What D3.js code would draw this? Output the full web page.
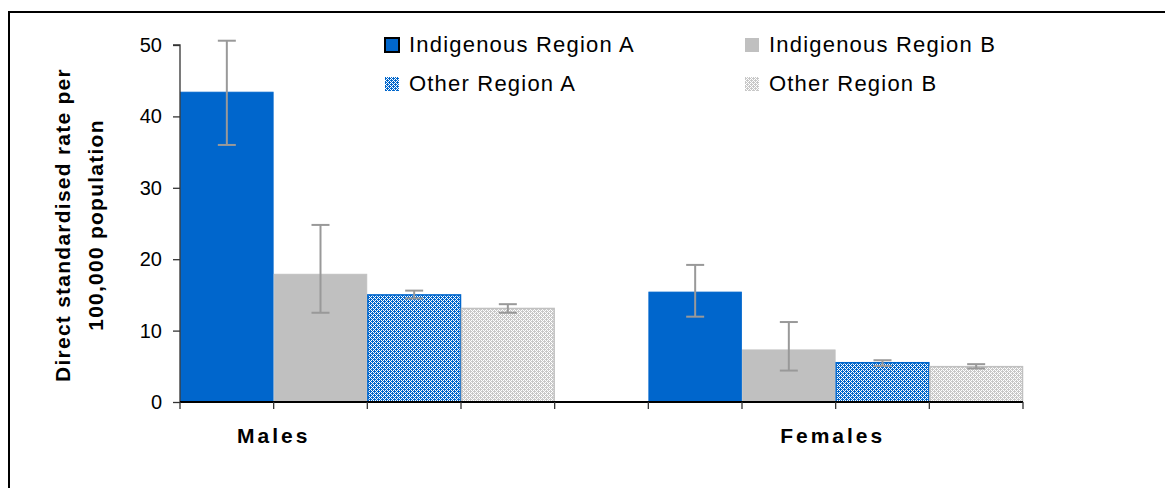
<!DOCTYPE html>
<html><head><meta charset="utf-8">
<script src="https://cdn.jsdelivr.net/npm/d3@7"></script>
<style>
html,body{margin:0;padding:0;background:#fff;}
svg{display:block;font-family:"Liberation Sans",Arial,sans-serif;}
</style></head>
<body><svg id="chart" width="1165" height="488"></svg>
<script>
const categories = ["Males", "Females"];
const seriesNames = ["Indigenous Region A", "Indigenous Region B", "Other Region A", "Other Region B"];
const valuesMales = [43.4, 17.9, 15.0, 13.1];
const valuesFemales = [15.4, 7.3, 5.5, 4.95];
const lowerMales = [36.0, 12.5, 14.5, 12.5];
const upperMales = [50.6, 24.8, 15.6, 13.7];
const lowerFemales = [11.95, 4.4, 5.05, 4.7];
const upperFemales = [19.2, 11.2, 5.85, 5.3];
const yTicks = [0, 10, 20, 30, 40, 50];

const svg = d3.select("#chart");
const defs = svg.append("defs");

function makePattern(id, fg, bg) {
  const p = defs.append("pattern").attr("id", id).attr("patternUnits", "userSpaceOnUse")
    .attr("width", 4).attr("height", 4);
  p.append("rect").attr("width", 4).attr("height", 4).attr("fill", fg);
  const pix = [[3,0],[2,1],[1,2],[0,3],[1,0],[3,2]];
  pix.forEach(([x, y]) => p.append("rect").attr("x", x).attr("y", y).attr("width", 1).attr("height", 1).attr("fill", bg));
}
makePattern("patBlue", "#0066CC", "#ffffff");
makePattern("patGray", "#C8C8C8", "#ffffff");

const styles = [
  {fill: "#0066CC", stroke: "#0066CC", legendStroke: "#000"},
  {fill: "#C0C0C0", stroke: "#C0C0C0", legendStroke: "none"},
  {fill: "url(#patBlue)", stroke: "#0066CC", legendStroke: "none"},
  {fill: "url(#patGray)", stroke: "#C0C0C0", legendStroke: "none"}
];

// outer frame
svg.append("rect").attr("x", 9).attr("y", 12).attr("width", 1170).attr("height", 500)
  .attr("fill", "none").attr("stroke", "#000").attr("stroke-width", 2);

const plotLeft = 180, plotRight = 1023, plotTop = 45, plotBottom = 402;

const y = d3.scaleLinear().domain([0, 50]).range([plotBottom, plotTop]);
const x0 = d3.scaleBand().domain(categories).range([plotLeft, plotRight]).paddingInner(0.2).paddingOuter(0);
const x1 = d3.scaleBand().domain(seriesNames).range([0, x0.bandwidth()]);

const data = [];
categories.forEach((c, ci) => {
  const vals = ci === 0 ? valuesMales : valuesFemales;
  const lo = ci === 0 ? lowerMales : lowerFemales;
  const hi = ci === 0 ? upperMales : upperFemales;
  seriesNames.forEach((s, si) => data.push({cat: c, series: s, si, value: vals[si], lo: lo[si], hi: hi[si]}));
});

// bars
svg.append("g").selectAll("rect").data(data).join("rect")
  .attr("x", d => x0(d.cat) + x1(d.series) + 0.5)
  .attr("y", d => y(d.value))
  .attr("width", x1.bandwidth() - 1)
  .attr("height", d => y(0) - y(d.value))
  .attr("fill", d => styles[d.si].fill)
  .attr("stroke", d => styles[d.si].stroke)
  .attr("stroke-width", d => d.si >= 2 ? 1.5 : 0.8);

// error bars
const eb = svg.append("g").attr("stroke", "#999999").attr("stroke-width", 2);
data.forEach(d => {
  const cx = x0(d.cat) + x1(d.series) + x1.bandwidth() / 2;
  eb.append("line").attr("x1", cx).attr("x2", cx).attr("y1", y(d.hi)).attr("y2", y(d.lo));
  eb.append("line").attr("x1", cx - 9).attr("x2", cx + 9).attr("y1", y(d.hi)).attr("y2", y(d.hi));
  eb.append("line").attr("x1", cx - 9).attr("x2", cx + 9).attr("y1", y(d.lo)).attr("y2", y(d.lo));
});

// y axis
const yAxis = d3.axisLeft(y).tickValues(yTicks).tickSize(7).tickPadding(11).tickFormat(d3.format("d"));
const gy = svg.append("g").attr("transform", `translate(${plotLeft},0)`).call(yAxis);
gy.select(".domain").attr("stroke", "#333").attr("stroke-width", 1.3).attr("d", `M-7,${plotTop}H0V${plotBottom}`);
gy.selectAll(".tick line").attr("stroke", "#333").attr("stroke-width", 1.3);
gy.selectAll(".tick text").attr("font-size", 20).attr("fill", "#000").attr("font-family", "Liberation Sans, Arial, sans-serif");

// x axis line and ticks
svg.append("line").attr("x1", plotLeft).attr("x2", plotRight).attr("y1", plotBottom).attr("y2", plotBottom)
  .attr("stroke", "#000").attr("stroke-width", 2);
const tickXs = [];
categories.forEach(c => {
  seriesNames.forEach(s => tickXs.push(x0(c) + x1(s)));
  tickXs.push(x0(c) + x0.bandwidth());
});
svg.append("g").selectAll("line").data(tickXs).join("line")
  .attr("x1", d => d).attr("x2", d => d).attr("y1", plotBottom).attr("y2", plotBottom + 7)
  .attr("stroke", "#333").attr("stroke-width", 1.3);

// category labels
const catLabelAnchor = {Males: x0("Males") + x1.bandwidth(), Females: x0("Females") + x0.bandwidth() / 2 - 3};
svg.append("g").selectAll("text").data(categories).join("text")
  .attr("x", d => catLabelAnchor[d]).attr("y", 443)
  .attr("text-anchor", "middle").attr("font-size", 21).attr("font-weight", "bold")
  .attr("letter-spacing", 3)
  .text(d => d);

// y title
const yt = svg.append("text").attr("transform", `translate(70,225) rotate(-90)`)
  .attr("text-anchor", "middle").attr("font-size", 21).attr("font-weight", "bold").attr("letter-spacing", 1.25);
yt.append("tspan").attr("x", 0).attr("dy", 0).text("Direct standardised rate per");
yt.append("tspan").attr("x", 0).attr("dy", 33).text("100,000 population");

// legend
const legendCols = [385, 745], legendRows = [38, 77];
const lg = svg.append("g").selectAll("g").data(seriesNames).join("g")
  .attr("transform", (d, i) => `translate(${legendCols[i % 2]},${legendRows[Math.floor(i / 2)]})`);
lg.append("rect").attr("width", 14).attr("height", 14)
  .attr("fill", (d, i) => styles[i].fill)
  .attr("stroke", (d, i) => styles[i].legendStroke).attr("stroke-width", 2);
lg.append("text").attr("x", 24).attr("y", 14).attr("font-size", 22).attr("letter-spacing", 1.2).text(d => d);
</script>
</body></html>
